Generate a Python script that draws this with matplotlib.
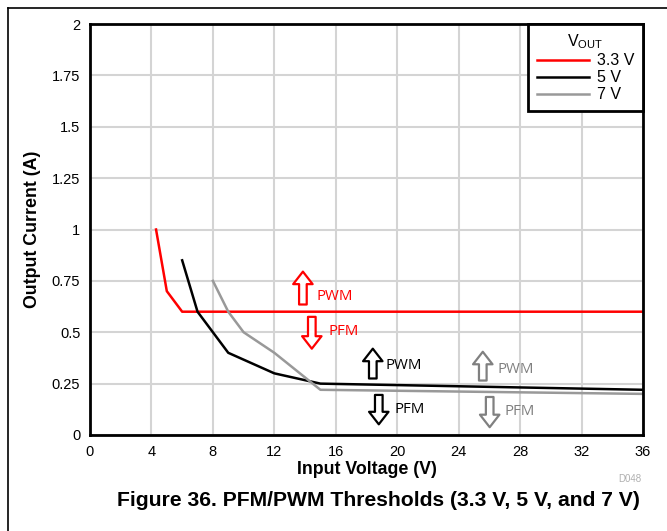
import matplotlib
matplotlib.use("Agg")
import matplotlib.pyplot as plt
from matplotlib.patches import FancyArrowPatch
from matplotlib.lines import Line2D

plt.rcParams['font.family'] = ['Liberation Sans', 'DejaVu Sans']

# Data
v33_x = [4.3, 5.0, 6.0, 36.0]
v33_y = [1.0, 0.70, 0.60, 0.60]
v5_x = [6.0, 7.0, 9.0, 12.0, 15.0, 36.0]
v5_y = [0.85, 0.60, 0.40, 0.30, 0.25, 0.22]
v7_x = [8.0, 9.0, 10.0, 12.0, 15.0, 36.0]
v7_y = [0.75, 0.60, 0.50, 0.40, 0.22, 0.20]

series_labels = ['3.3 V', '5 V', '7 V']
colors = ['#ff0000', '#000000', '#999999']

x_ticks = [0, 4, 8, 12, 16, 20, 24, 28, 32, 36]
y_ticks = [0, 0.25, 0.5, 0.75, 1, 1.25, 1.5, 1.75, 2]
y_ticklabels = ['0', '0.25', '0.5', '0.75', '1', '1.25', '1.5', '1.75', '2']

# annotations: (x, y_start, y_end, text_x, text_y, text, color)
arrows = [
    (13.86, 0.635, 0.795, 14.75, 0.676, 'PWM', '#ff0000'),
    (14.44, 0.575, 0.42, 15.5, 0.506, 'PFM', '#ff0000'),
    (18.41, 0.275, 0.42, 19.25, 0.336, 'PWM', '#000000'),
    (18.80, 0.195, 0.052, 19.8, 0.122, 'PFM', '#000000'),
    (25.57, 0.265, 0.405, 26.55, 0.32, 'PWM', '#808080'),
    (26.02, 0.185, 0.038, 27.0, 0.112, 'PFM', '#808080'),
]

fig = plt.figure(figsize=(6.67, 5.31), dpi=100)
ax = fig.add_axes([90/667, 1-435/531, (643-90)/667, (435-24)/531])

ax.set_xlim(0, 36)
ax.set_ylim(0, 2)
ax.set_xticks(x_ticks)
ax.set_yticks(y_ticks)
ax.set_yticklabels(y_ticklabels)
ax.grid(True, color='#d4d4d4', lw=1.5)
ax.set_axisbelow(True)
ax.tick_params(length=0, labelsize=10.5, pad=7)
for s in ax.spines.values():
    s.set_linewidth(2)
    s.set_color('black')

l1, = ax.plot(v33_x, v33_y, color=colors[0], lw=1.8)
l2, = ax.plot(v5_x, v5_y, color=colors[1], lw=1.8)
l3, = ax.plot(v7_x, v7_y, color=colors[2], lw=1.8)

for (x, y0, y1, tx, ty, txt, c) in arrows:
    p = FancyArrowPatch((x, y0), (x, y1),
                        arrowstyle='simple,head_width=14,head_length=9,tail_width=5.5',
                        mutation_scale=1, fc='white', ec=c, lw=1.6,
                        shrinkA=0, shrinkB=0, zorder=5)
    ax.add_patch(p)
    ax.text(tx, ty, txt, color=c, fontsize=10.8, family=['Open Sans', 'DejaVu Sans'],
            va='center', ha='left', zorder=6)

ax.set_xlabel('Input Voltage (V)', fontsize=12.8, fontweight='bold', labelpad=2)
ax.set_ylabel('Output Current (A)', fontsize=12.8, fontweight='bold', labelpad=8)

leg = ax.legend([l1, l2, l3], series_labels, title=r'V$_{\mathregular{OUT}}$',
                loc='upper right', bbox_to_anchor=(1.0, 1.0), fontsize=11.5,
                title_fontsize=11.5, frameon=True, fancybox=False,
                borderpad=0.55, labelspacing=0.12, handlelength=3.25,
                handletextpad=0.5, borderaxespad=0)
leg.get_frame().set_edgecolor('black')
leg.get_frame().set_linewidth(2)
leg.get_frame().set_alpha(1)

fig.text(618/667, 1-479/531, 'D048', fontsize=7, color='#b0b0b0', va='center', ha='left')
fig.text(378/667, 1-501/531, 'Figure 36. PFM/PWM Thresholds (3.3 V, 5 V, and 7 V)',
         fontsize=15.2, fontweight='bold', ha='center', va='center')

# outer frame lines (top and left)
fig.add_artist(Line2D([8/667, 1.0], [1-8/531, 1-8/531], transform=fig.transFigure, color='black', lw=1.2))
fig.add_artist(Line2D([8/667, 8/667], [0, 1-8/531], transform=fig.transFigure, color='black', lw=1.2))

fig.savefig('out.png', dpi=100)
